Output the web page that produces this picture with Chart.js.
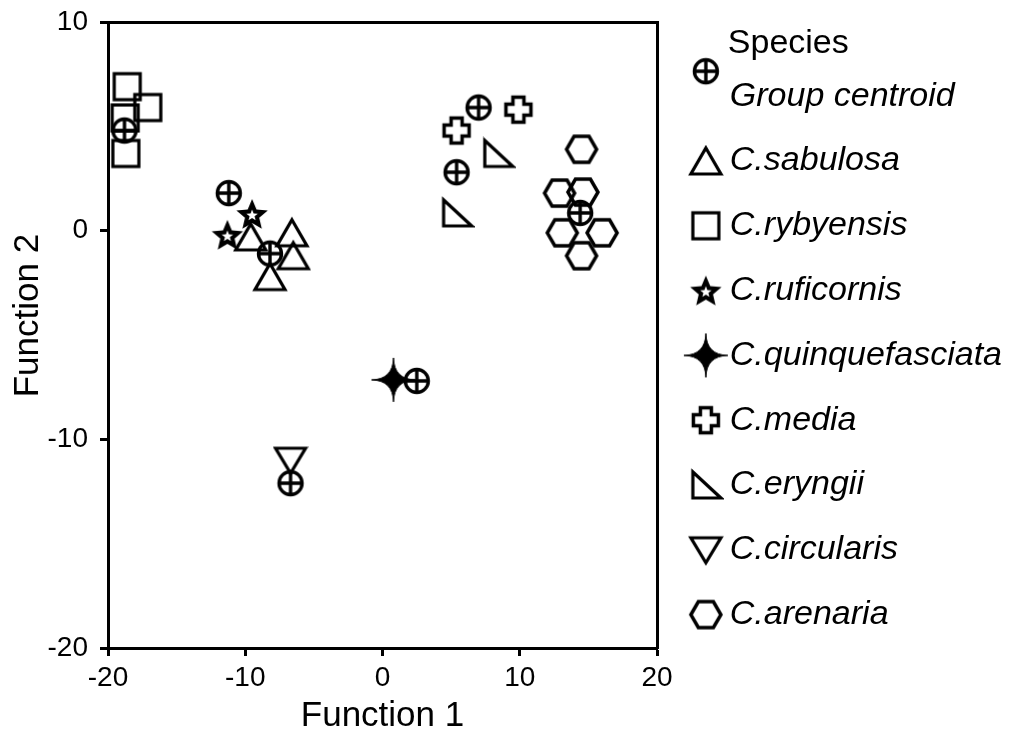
<!DOCTYPE html>
<html><head><meta charset="utf-8">
<script src="https://cdn.jsdelivr.net/npm/chart.js@4"></script>
<style>html,body{margin:0;padding:0;background:#fff}#wrap{width:1012px;height:736px}</style>
</head><body><div id="wrap"><canvas id="c" width="1012" height="736"></canvas></div>
<script>
// ---- data ----
const xTicks = [-20, -10, 0, 10, 20];
const yTicks = [-20, -10, 0, 10];
const seriesNames = ['Group centroid', 'C.sabulosa', 'C.rybyensis', 'C.ruficornis',
  'C.quinquefasciata', 'C.media', 'C.eryngii', 'C.circularis', 'C.arenaria'];
const centroids = [[-18.8, 4.8], [-11.2, 1.8], [-8.2, -1.1], [2.5, -7.2], [-6.7, -12.1], [7.0, 5.9], [5.4, 2.8], [14.4, 0.85]];
const sabulosa = [[-9.6, -0.3], [-6.6, -0.1], [-6.5, -1.2], [-8.2, -2.2]];
const rybyensis = [[-18.6, 6.9], [-17.1, 5.9], [-18.75, 5.4], [-18.7, 3.7]];
const ruficornis = [[-9.5, 0.8], [-11.3, -0.2]];
const quinquefasciata = [[0.8, -7.15]];
const media = [[5.4, 4.8], [9.9, 5.8]];
const eryngii = [[8.4, 3.7], [5.4, 0.85]];
const circularis = [[-6.7, -11.0]];
const arenaria = [[14.5, 3.9], [12.9, 1.8], [14.6, 1.85], [13.1, -0.1], [16.0, -0.1], [14.5, -1.2]];

const FONT = '"Liberation Sans", Arial, sans-serif';

// ---- marker canvases ----
function mk(w, h, draw) {
  const c = document.createElement('canvas');
  c.width = w; c.height = h;
  const g = c.getContext('2d');
  g.strokeStyle = '#000'; g.fillStyle = '#000'; g.lineWidth = 3.2; g.lineJoin = 'miter';
  draw(g, w / 2, h / 2);
  return c;
}
function poly(g, pts) {
  g.beginPath(); g.moveTo(pts[0][0], pts[0][1]);
  for (let i = 1; i < pts.length; i++) g.lineTo(pts[i][0], pts[i][1]);
  g.closePath();
}
function centroidDraw(g, cx, cy) {
  const r = 11.5; g.lineWidth = 3.4;
  g.beginPath(); g.arc(cx, cy, r, 0, Math.PI * 2); g.stroke();
  g.beginPath(); g.moveTo(cx - r, cy); g.lineTo(cx + r, cy); g.moveTo(cx, cy - r); g.lineTo(cx, cy + r); g.stroke();
}
const mCentroid = mk(30, 30, centroidDraw);
const mCentroidLegend = mk(30, 80, (g, cx, cy) => centroidDraw(g, cx, cy - 25));
const mTriUp = mk(36, 34, (g, cx, cy) => { poly(g, [[cx, cy - 13], [cx + 15, cy + 13], [cx - 15, cy + 13]]); g.stroke(); });
const mSquare = mk(34, 34, (g, cx, cy) => { g.strokeRect(cx - 13, cy - 13, 26, 26); });
const mStar = mk(38, 38, (g, cx, cy) => {
  const star = (R, r) => { const p = []; for (let i = 0; i < 10; i++) { const a = -Math.PI / 2 + i * Math.PI / 5; const rr = i % 2 ? r : R; p.push([cx + rr * Math.cos(a), cy + 1.5 + rr * Math.sin(a)]); } poly(g, p); };
  star(16.5, 7.5); g.fill();
  g.fillStyle = '#fff'; star(6, 2.6); g.fill();
});
const mStar4 = mk(50, 50, (g, cx, cy) => {
  const L = 22, k = 0.5;
  g.beginPath(); g.moveTo(cx, cy - L);
  g.quadraticCurveTo(cx + k, cy - k, cx + L, cy);
  g.quadraticCurveTo(cx + k, cy + k, cx, cy + L);
  g.quadraticCurveTo(cx - k, cy + k, cx - L, cy);
  g.quadraticCurveTo(cx - k, cy - k, cx, cy - L);
  g.closePath(); g.fill();
  g.lineWidth = 1; g.stroke();
});
const mCross = mk(34, 34, (g, cx, cy) => {
  const a = 5.5, L = 12.5; g.lineWidth = 3.5;
  poly(g, [[cx - a, cy - L], [cx + a, cy - L], [cx + a, cy - a], [cx + L, cy - a], [cx + L, cy + a], [cx + a, cy + a],
    [cx + a, cy + L], [cx - a, cy + L], [cx - a, cy + a], [cx - L, cy + a], [cx - L, cy - a], [cx - a, cy - a]]);
  g.stroke();
});
const mRightTri = mk(36, 34, (g, cx, cy) => { poly(g, [[cx - 13, cy - 13], [cx - 13, cy + 13], [cx + 15, cy + 13]]); g.stroke(); });
const mTriDown = mk(36, 34, (g, cx, cy) => { poly(g, [[cx - 15, cy - 12], [cx + 15, cy - 12], [cx, cy + 13]]); g.stroke(); });
const mHex = mk(36, 34, (g, cx, cy) => {
  const p = []; for (let i = 0; i < 6; i++) { const a = i * Math.PI / 3; p.push([cx + 15 * Math.cos(a), cy + 15 * Math.sin(a)]); }
  g.lineWidth = 3.5; poly(g, p); g.stroke();
});

const seriesData = [centroids, sabulosa, rybyensis, ruficornis, quinquefasciata, media, eryngii, circularis, arenaria];
const seriesMarkers = [mCentroid, mTriUp, mSquare, mStar, mStar4, mCross, mRightTri, mTriDown, mHex];

const datasets = seriesNames.map((name, i) => ({
  label: name,
  data: seriesData[i].map(([x, y]) => ({ x, y })),
  pointStyle: seriesMarkers[i],
  pointRadius: 12,
  showLine: false
}));

const speciesTitle = {
  id: 'speciesTitle',
  afterDraw(chart) {
    const lg = chart.legend;
    if (!lg || !lg.legendHitBoxes || !lg.legendHitBoxes.length) return;
    const hb = lg.legendHitBoxes[0];
    const c = chart.ctx;
    c.save();
    c.font = '34px ' + FONT; c.fillStyle = '#000';
    c.textBaseline = 'middle'; c.textAlign = 'left';
    c.fillText('Species', hb.left + 14 + 17 - 2, hb.top + 17 - 53);
    c.restore();
  }
};

const axisCommon = {
  grid: { display: true, drawOnChartArea: false, drawTicks: true, tickLength: 8, tickWidth: 3, tickColor: '#000' },
  border: { display: true, color: '#000', width: 3 }
};
const frameAxis = {
  type: 'linear', ticks: { display: false },
  grid: { display: false, drawTicks: false },
  border: { display: true, color: '#000', width: 3 }
};
const noPad = s => { s.paddingTop = 0; s.paddingBottom = 0; s.paddingLeft = 0; s.paddingRight = 0; };

new Chart(document.getElementById('c'), {
  type: 'scatter',
  data: { datasets },
  options: {
    responsive: false, animation: false, events: [],
    layout: { padding: 0, autoPadding: false },
    plugins: {
      tooltip: { enabled: false },
      legend: {
        position: 'right', align: 'start', maxWidth: 420,
        title: { display: true, text: '', font: { size: 20 }, padding: { top: 24.4, bottom: 0 } },
        labels: {
          usePointStyle: true, pointStyleWidth: 14, padding: 30.8, color: '#000',
          font: { family: FONT, size: 34, style: 'italic' },
          generateLabels(chart) {
            const items = Chart.defaults.plugins.legend.labels.generateLabels(chart);
            if (items.length) items[0].pointStyle = mCentroidLegend;
            return items;
          }
        }
      }
    },
    scales: {
      x: Object.assign({}, axisCommon, {
        type: 'linear', position: 'bottom', min: -20, max: 20,
        afterBuildTicks: s => { s.ticks = xTicks.map(v => ({ value: v })); },
        afterFit: s => { s.height = 88; noPad(s); },
        ticks: { color: '#000', font: { family: FONT, size: 28 }, padding: 5, maxRotation: 0, autoSkip: false },
        title: { display: true, text: 'Function 1', color: '#000', font: { family: FONT, size: 35, lineHeight: 1.1 }, padding: 0 }
      }),
      y: Object.assign({}, axisCommon, {
        type: 'linear', position: 'left', min: -20, max: 10,
        afterBuildTicks: s => { s.ticks = yTicks.map(v => ({ value: v })); },
        afterFit: s => { s.width = 108; noPad(s); },
        ticks: { color: '#000', font: { family: FONT, size: 28 }, padding: 12, autoSkip: false },
        title: { display: true, text: '    Function 2', color: '#000', font: { family: FONT, size: 35 }, padding: { top: 7, bottom: 0 } }
      }),
      x2: Object.assign({}, frameAxis, {
        position: 'top', min: -20, max: 20,
        afterFit: s => { s.height = 22; noPad(s); }
      }),
      y2: Object.assign({}, frameAxis, {
        position: 'right', min: -20, max: 10,
        afterFit: s => { const lg = s.chart.legend; s.width = lg && lg.width ? Math.max(0, 1012 - lg.width - 657) : 11; noPad(s); }
      })
    }
  },
  plugins: [speciesTitle]
});
</script>
</body></html>
